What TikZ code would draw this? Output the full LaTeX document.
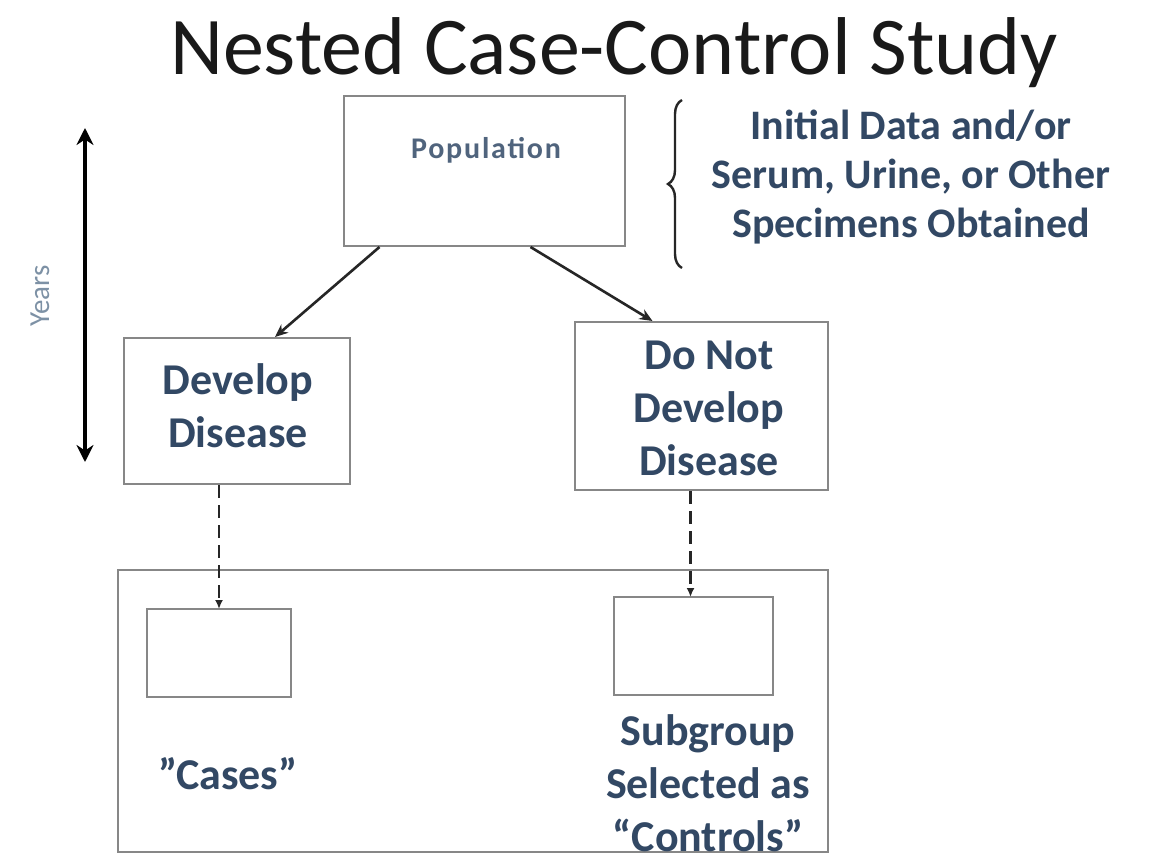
\documentclass[tikz,border=0pt]{standalone}
\usepackage{fontspec}
\setmainfont{Carlito}
\usetikzlibrary{arrows.meta,decorations.pathreplacing}
\definecolor{ink}{RGB}{50,72,100}
\definecolor{popink}{RGB}{80,100,125}
\definecolor{yearink}{RGB}{125,145,165}
\definecolor{frame}{RGB}{135,135,135}
\tikzset{
  box/.style={draw=frame, line width=2pt, fill=white, inner sep=0pt},
  lbl/.style={text=ink, font=\bfseries\fontsize{44}{53}\selectfont, align=center, inner sep=0pt},
  solidarrow/.style={draw=black!85, line width=2.6pt, -{Stealth[length=13pt,width=11pt]}},
  dasharrow/.style={draw=black!85, line width=2.6pt, dash pattern=on 13pt off 7pt, -{Latex[length=9pt,width=8pt]}},
}
\begin{document}
\begin{tikzpicture}[x=1pt,y=-1pt]
  \useasboundingbox (0,0) rectangle (1158,861);
  \fill[white] (0,0) rectangle (1158,861);

  % title
  \node[anchor=base, font=\fontsize{82}{90}\selectfont, text=black!90, inner sep=0pt] (title) at (614,75) {Nested Case-Control Study};

  % population box
  \node[box, minimum width=281pt, minimum height=150pt] (pop) at (484.5,171) {};
  \node[text=popink, font=\bfseries\fontsize{30}{34}\selectfont\addfontfeature{LetterSpace=6}, inner sep=0pt] (poptxt) at (486,150) {Population};

  % brace and note on what is collected
  \coordinate (bt) at (682,100);
  \coordinate (bb) at (682,268);
  \draw[black!85, line width=2.4pt, decorate, decoration={brace, amplitude=14pt, mirror}] (bt) -- (bb);
  \node[lbl, font=\bfseries\fontsize{42}{49}\selectfont] (note) at (911,177) {Initial Data and/or\\Serum, Urine, or Other\\Specimens Obtained};

  % follow-up time
  \coordinate (yt) at (85,128);
  \coordinate (yb) at (85,462);
  \draw[black, line width=4pt, {Stealth[length=17pt,width=17pt]}-{Stealth[length=17pt,width=17pt]}] (yt) -- (yb);
  \node[rotate=90, text=yearink, font=\fontsize{29}{32}\selectfont, inner sep=0pt] (years) at (40,296) {Years};

  % outcome boxes
  \node[box, minimum width=226pt, minimum height=146pt] (dev) at (237,411) {};
  \node[lbl] (devtxt) at (238,406) {Develop\\Disease};
  \node[box, minimum width=253pt, minimum height=168pt] (nodev) at (701.5,406) {};
  \node[lbl] (nodevtxt) at (709,408) {Do Not\\Develop\\Disease};

  \draw[solidarrow] ([xshift=-105pt]pop.south) -- ([xshift=38pt]dev.north);
  \draw[solidarrow] ([xshift=46pt]pop.south) -- ([xshift=-49pt]nodev.north);

  % sampled groups
  \node[box, minimum width=710pt, minimum height=282pt] (study) at (473,711) {};
  \node[box, minimum width=144pt, minimum height=88pt] (cases) at (219,653) {};
  \node[box, minimum width=159pt, minimum height=98pt] (controls) at (693.5,646) {};

  \draw[dasharrow] (dev.south -| cases.north) -- ([yshift=-1pt]cases.north);
  \draw[dasharrow] ([xshift=-11pt]nodev.south) -- ([yshift=-1pt,xshift=-3pt]controls.north);

  \node[lbl] (casestxt) at (228,774) {”Cases”};
  \node[lbl] (ctrltxt) at (708,783) {Subgroup\\Selected as\\“Controls”};
\end{tikzpicture}
\end{document}
